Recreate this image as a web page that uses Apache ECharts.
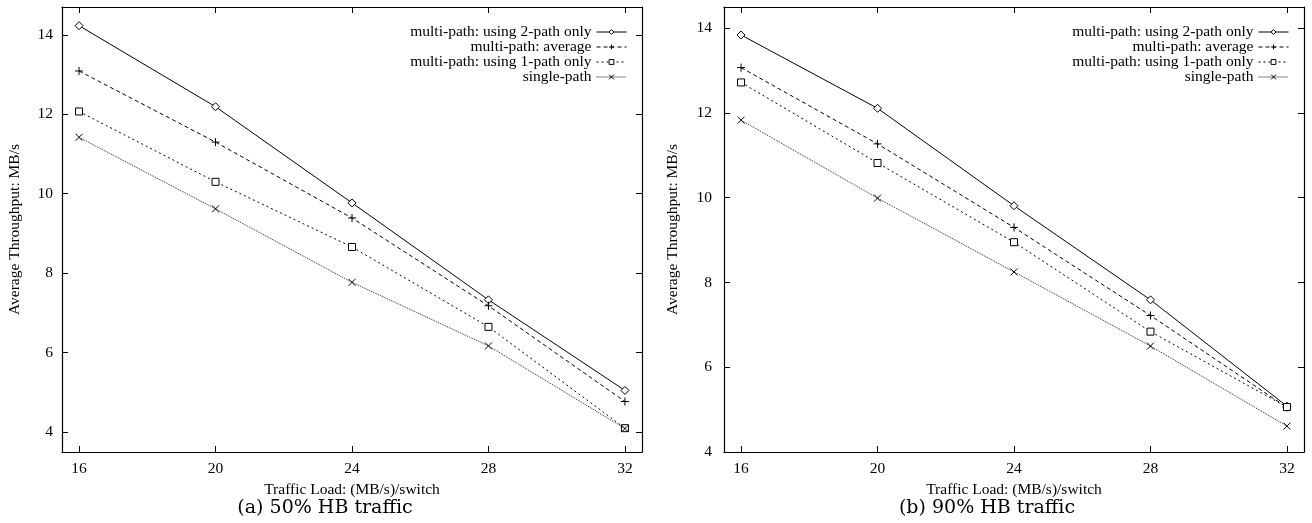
<!DOCTYPE html>
<html>
<head>
<meta charset="utf-8">
<title>Average throughput vs traffic load</title>
<script src="https://cdn.jsdelivr.net/npm/echarts@6/dist/echarts.min.js"></script>
<style>
  html, body { margin: 0; padding: 0; background: #fff; }
  #chart { width: 1312px; height: 523px; }
</style>
</head>
<body>
<div id="chart"></div>
<script>
// Traffic load per switch (MB/s)
const loads = [16, 20, 24, 28, 32];
const xTicks = [16, 20, 24, 28, 32];
const yTicks = [4, 6, 8, 10, 12, 14];

// (a) 50% HB traffic — average throughput, MB/s
const twoPath50 = [14.23, 12.19, 9.77, 7.33, 5.05];
const average50 = [13.09, 11.30, 9.39, 7.18, 4.77];
const onePath50 = [12.07, 10.30, 8.66, 6.65, 4.10];
const single50  = [11.42, 9.62, 7.77, 6.17, 4.09];

// (b) 90% HB traffic — average throughput, MB/s
const twoPath90 = [13.84, 12.11, 9.81, 7.59, 5.08];
const average90 = [13.07, 11.27, 9.30, 7.22, 5.05];
const onePath90 = [12.72, 10.82, 8.95, 6.84, 5.06];
const single90  = [11.83, 9.99, 8.25, 6.50, 4.61];

const seriesNames = [
  'multi-path: using 2-path only',
  'multi-path: average',
  'multi-path: using 1-path only',
  'single-path'
];
const captions = ['(a) 50% HB traffic', '(b) 90% HB traffic'];

const SERIF = 'Liberation Serif, Times New Roman, serif';
const TXT = { color: '#000', fontFamily: SERIF, fontSize: 15.5 };

// gnuplot-like point types and dash patterns
const styles = [
  { symbol: 'diamond', size: 8, fill: '#fff', dash: 'solid' },
  { symbol: 'path://M5,0L5,10M0,5L10,5', size: 8, fill: 'none', dash: [4, 3] },
  { symbol: 'rect', size: 7, fill: '#fff', dash: [2, 3] },
  { symbol: 'path://M0,0L10,10M10,0L0,10', size: 7, fill: 'none', dash: [1, 1] }
];

const grids = [
  { left: 62, top: 7, width: 580, height: 445 },
  { left: 724, top: 7, width: 580, height: 445 }
];
const yRanges = [[3.5, 14.7], [4, 14.5]];

const xAxes = [], yAxes = [];
grids.forEach((g, i) => {
  const tick = { show: true, inside: true, length: 6, customValues: xTicks, lineStyle: { color: '#000' } };
  xAxes.push({
    type: 'value', gridIndex: i, position: 'bottom', min: 15.5, max: 32.5,
    axisLine: { show: true, lineStyle: { color: '#000', width: 1.2 } },
    axisTick: tick,
    axisLabel: Object.assign({ customValues: xTicks, margin: 9 }, TXT),
    splitLine: { show: false },
    name: 'Traffic Load: (MB/s)/switch', nameLocation: 'middle', nameGap: 30,
    nameTextStyle: TXT
  });
  xAxes.push({
    type: 'value', gridIndex: i, position: 'top', min: 15.5, max: 32.5,
    axisLine: { show: true, lineStyle: { color: '#000', width: 1.2 } },
    axisTick: tick,
    axisLabel: { show: false, customValues: xTicks },
    splitLine: { show: false }
  });
  const yt = { show: true, inside: true, length: 6, customValues: yTicks, lineStyle: { color: '#000' } };
  yAxes.push({
    type: 'value', gridIndex: i, position: 'left', min: yRanges[i][0], max: yRanges[i][1],
    axisLine: { show: true, lineStyle: { color: '#000', width: 1.2 } },
    axisTick: yt,
    axisLabel: Object.assign({ customValues: yTicks, margin: i === 0 ? 9 : 12 }, TXT),
    splitLine: { show: false },
    name: 'Average Throughput: MB/s', nameLocation: 'middle', nameGap: i === 0 ? 39 : 43,
    nameTextStyle: TXT
  });
  yAxes.push({
    type: 'value', gridIndex: i, position: 'right', min: yRanges[i][0], max: yRanges[i][1],
    axisLine: { show: true, lineStyle: { color: '#000', width: 1.2 } },
    axisTick: yt,
    axisLabel: { show: false, customValues: yTicks },
    splitLine: { show: false }
  });
});

const panels = [
  [twoPath50, average50, onePath50, single50],
  [twoPath90, average90, onePath90, single90]
];

const series = [];
panels.forEach((sets, p) => {
  sets.forEach((vals, k) => {
    const st = styles[k];
    series.push({
      name: seriesNames[k],
      type: 'line',
      xAxisIndex: p * 2,
      yAxisIndex: p * 2,
      data: loads.map((x, j) => [x, vals[j]]),
      symbol: st.symbol,
      symbolSize: st.size,
      showAllSymbol: true,
      lineStyle: { color: k === 3 ? '#222' : '#000', width: 1, type: st.dash },
      itemStyle: { color: st.fill, borderColor: '#000', borderWidth: 1 },
      emphasis: { disabled: true },
      z: 3 + k
    });
  });
});

// one legend row per entry so text right edges and samples line up
const legendRight = [685, 23];
const rowTop = [24, 39, 54, 69];
const legends = [];
legendRight.forEach(r => {
  seriesNames.forEach((n, k) => {
    legends.push({
      data: [n], right: r, top: rowTop[k], padding: 0,
      align: 'right', itemWidth: 30, itemHeight: 6, itemGap: 0,
      selectedMode: false,
      itemStyle: { borderWidth: 1, borderColor: '#000' },
      lineStyle: { width: 1, color: '#000' },
      textStyle: Object.assign({ padding: [0, 0, 0, 0] }, TXT)
    });
  });
});

const chart = echarts.init(document.getElementById('chart'), null, { renderer: 'canvas' });
chart.setOption({
  backgroundColor: '#fff',
  animation: false,
  grid: grids,
  xAxis: xAxes,
  yAxis: yAxes,
  legend: legends,
  series: series,
  graphic: captions.map((c, i) => ({
    type: 'text',
    x: [325, 987][i],
    y: 508,
    style: {
      text: c, fill: '#000', fontSize: 19, fontFamily: 'DejaVu Serif, serif',
      align: 'center', verticalAlign: 'middle'
    }
  }))
});
</script>
</body>
</html>
